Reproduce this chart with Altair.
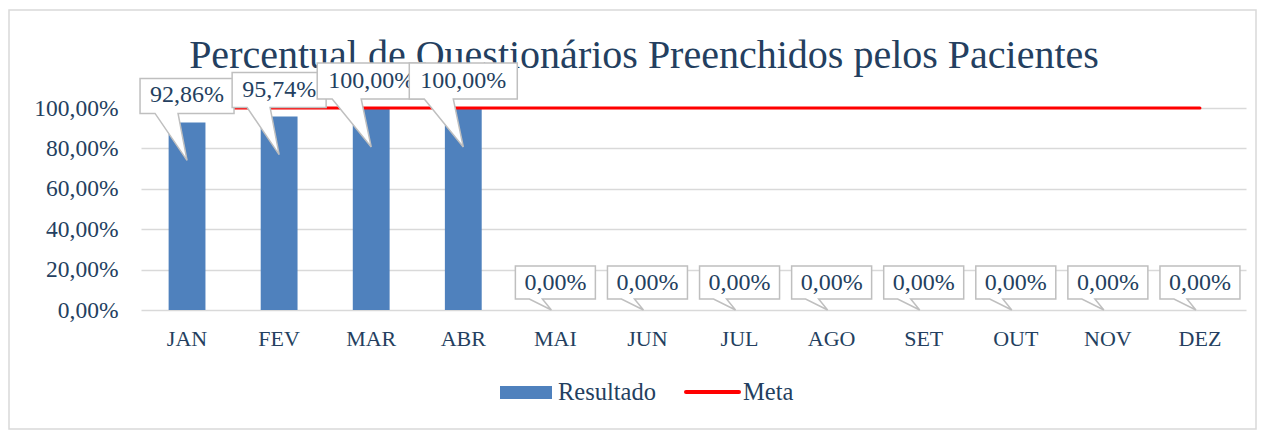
import altair as alt
import pandas as pd

meses = ["JAN", "FEV", "MAR", "ABR", "MAI", "JUN", "JUL", "AGO", "SET", "OUT", "NOV", "DEZ"]
resultado = [92.86, 95.74, 100.00, 100.00, 0, 0, 0, 0, 0, 0, 0, 0]
meta = [100] * 12
titulo = "Percentual de Questionários Preenchidos pelos Pacientes"

FONT = "Liberation Serif"
TXT = "#243F60"

def fmt(v):
    return f"{v:.2f}".replace(".", ",") + "%"

def callout_kind(v):
    if v == 0:
        return "zero"
    if v >= 100:
        return "largo"
    return "medio"

df = pd.DataFrame({
    "mes": meses,
    "resultado": resultado,
    "meta": meta,
    "rotulo": [fmt(v) for v in resultado],
    "tipo": [callout_kind(v) for v in resultado],
})

W, H = 1105, 202

xenc = alt.X("mes:N", sort=meses, title=None,
             scale=alt.Scale(paddingInner=0.6, paddingOuter=0.3),
             axis=alt.Axis(labelAngle=0, labelFont=FONT, labelFontSize=22, labelColor=TXT,
                           labelPadding=18, ticks=False, domain=False, grid=False))
yscale = alt.Scale(domain=[0, 100], nice=False)
yenc = alt.Y("resultado:Q", scale=yscale, title=None,
             axis=alt.Axis(values=[0, 20, 40, 60, 80, 100],
                           labelExpr="replace(format(datum.value, '.2f'), '.', ',') + '%'",
                           labelFont=FONT, labelFontSize=23.5, labelColor=TXT, labelPadding=23,
                           ticks=False, domain=False, gridColor="#D9D9D9", gridWidth=1.5))

base = alt.Chart(df)
one = base.transform_filter("datum.mes == 'JAN'")

# outer border
border = one.mark_rect(
    fill="transparent", stroke="#D9D9D9", strokeWidth=1.5
).encode(x=alt.value(-132), x2=alt.value(1115), y=alt.value(-98), y2=alt.value(321))

title = one.mark_text(
    font=FONT, fontSize=40, color=TXT, baseline="alphabetic", align="center"
).encode(x=alt.value(503), y=alt.value(-40), text=alt.value(titulo))

bars = base.mark_bar(color="#4F81BD").encode(x=xenc, y=yenc)

line = base.mark_line(color="#FF0000", strokeWidth=3, strokeCap="round").encode(
    x=alt.X("mes:N", sort=meses), y=alt.Y("meta:Q", scale=yscale))

shapes = {
    "medio": "M -47 -44 L 47 -44 L 47 -9 L -9 -9 L 0 38 L -32 -9 L -47 -9 Z",
    "largo": "M -54 -45 L 54 -45 L 54 -9 L -10 -9 L 0 39 L -39 -9 L -54 -9 Z",
    "zero": "M -40 -44 L 40 -44 L 40 -11 L -13 -11 L -4 0 L -26 -11 L -40 -11 Z",
}
shape_scale = alt.Scale(domain=list(shapes.keys()), range=list(shapes.values()))

callouts = []
for m in meses:
    sub = base.transform_filter(f"datum.mes == '{m}'")
    box = sub.mark_point(filled=True, fill="white", stroke="#BFBFBF", strokeWidth=1.5,
                         opacity=1, size=4).encode(
        x=alt.X("mes:N", sort=meses), y=alt.Y("resultado:Q", scale=yscale),
        shape=alt.Shape("tipo:N", scale=shape_scale, legend=None))
    txt = sub.mark_text(font=FONT, fontSize=24, color=TXT, dy=-27, baseline="middle").encode(
        x=alt.X("mes:N", sort=meses), y=alt.Y("resultado:Q", scale=yscale), text="rotulo:N")
    callouts += [box, txt]

leg_rect = one.mark_rect(color="#4F81BD").encode(
    x=alt.value(359), x2=alt.value(411), y=alt.value(278), y2=alt.value(291))
leg_t1 = one.mark_text(font=FONT, fontSize=24.5, color=TXT, align="left", baseline="middle").encode(
    x=alt.value(417), y=alt.value(285), text=alt.value("Resultado"))
leg_line = one.mark_rule(color="#FF0000", strokeWidth=4, strokeCap="round").encode(
    x=alt.value(545), x2=alt.value(598), y=alt.value(284))
leg_t2 = one.mark_text(font=FONT, fontSize=24.5, color=TXT, align="left", baseline="middle").encode(
    x=alt.value(602), y=alt.value(285), text=alt.value("Meta"))

chart = alt.layer(border, title, bars, line, *callouts, leg_rect, leg_t1, leg_line, leg_t2).properties(
    width=W, height=H,
    autosize=alt.AutoSizeParams(type="none"),
    padding={"left": 133, "top": 100, "right": 12, "bottom": 120},
    background="white",
).configure_view(stroke=None).resolve_scale(shape="independent")

chart.save("out.html", embed_options={"renderer": "svg", "actions": False})
